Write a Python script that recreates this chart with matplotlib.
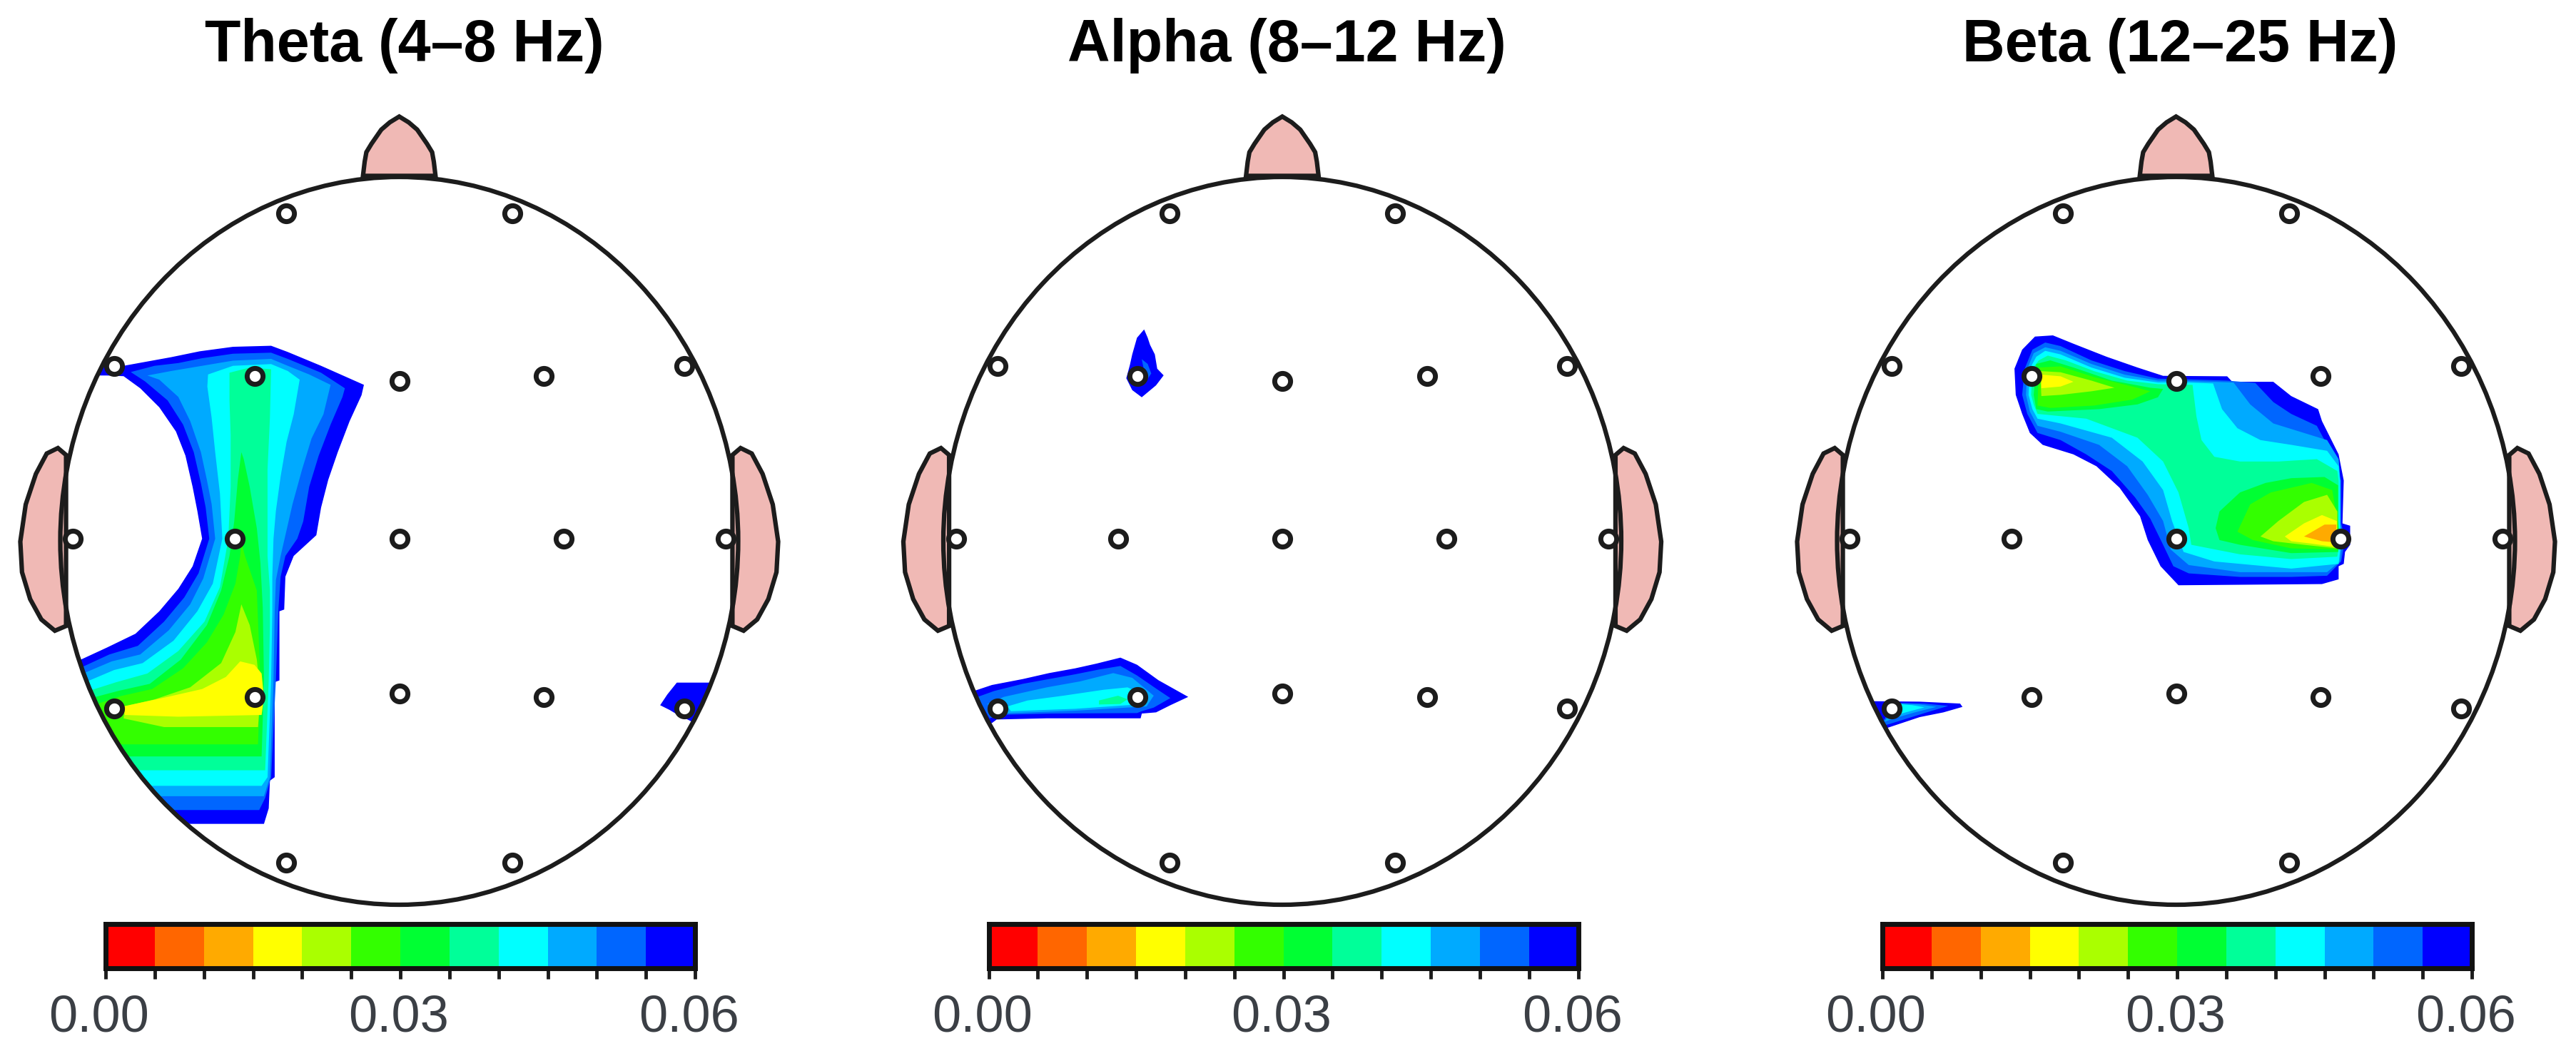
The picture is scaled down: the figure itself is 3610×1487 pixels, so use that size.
import matplotlib
matplotlib.use("Agg")
import matplotlib.pyplot as plt
from matplotlib.colors import BoundaryNorm, ListedColormap
from matplotlib.patches import Ellipse
import numpy as np

plt.rcParams["font.family"] = ["Liberation Sans", "DejaVu Sans"]

band_titles = ["Theta (4–8 Hz)", "Alpha (8–12 Hz)", "Beta (12–25 Hz)"]
cb_levels = [0.0, 0.005, 0.01, 0.015, 0.02, 0.025, 0.03, 0.035, 0.04, 0.045, 0.05, 0.055, 0.06]
cb_colors = ["#ff0000", "#ff6600", "#ffaa00", "#ffff00", "#aaff00", "#33ff00",
             "#00ff33", "#00ff99", "#00ffff", "#00aaff", "#0066ff", "#0000ff"]
cb_labels = ["0.00", "0.03", "0.06"]
cb_label_values = [0.0, 0.03, 0.06]

# electrode sites, head radius = 100
chan_x = [-33.3, 33.3, -84, -42.7, 0, 42.7, 84, -96.3, -48.5, 0, 48.5, 96.3, -84, -42.7, 0, 42.7, 84, -33.3, 33.3]
chan_y = [90, 90, 48, 45.3, 44, 45.3, 48, 0.5, 0.5, 0.5, 0.5, 0.5, -46, -43, -42, -43, -46, -88.4, -88.4]

nose_x = [-10.7, -10.2, -9.7, -8.2, -5.3, -2.8, 0, 2.8, 5.3, 8.2, 9.7, 10.2, 10.7]
nose_y = [100.3, 104.2, 106.8, 109.1, 113, 115, 116.6, 115, 113, 109.1, 106.8, 104.2, 100.3]
ear_x = [-98.3, -100.7, -104, -107.2, -110.2, -111.8, -111.3, -108.9, -105.6, -101.6, -98.3]
ear_y = [23.6, 25.5, 24, 18.4, 10, -0.2, -8.6, -16, -21.6, -24.7, -23.4]

theta_main_levels = [0.06, 0.055, 0.05, 0.045, 0.04, 0.035, 0.03, 0.025, 0.02]
theta_main_points = [
    [(150, 1000), (190, 1000), (300, 965), (420, 925), (520, 860), (600, 795), (660, 730), (700, 650), (680, 570),
     (660, 500), (630, 410), (590, 340), (520, 270), (440, 215), (370, 180), (300, 178), (240, 178), (240, 160),
     (300, 140), (370, 150), (450, 140), (570, 125), (690, 108), (830, 95), (990, 92), (1060, 110), (1200, 150),
     (1380, 205), (1370, 235), (1320, 310), (1270, 400), (1230, 480), (1200, 560), (1180, 640), (1085, 700),
     (1050, 760), (1045, 855), (1025, 860), (1025, 1060), (1005, 1065), (1005, 1340), (985, 1350), (980, 1430),
     (960, 1475), (800, 1475), (665, 1475), (560, 1475)],
    [(150, 1025), (200, 1020), (310, 985), (430, 960), (540, 890), (625, 820), (685, 750), (730, 650), (715, 560),
     (695, 490), (665, 400), (620, 320), (555, 250), (460, 195), (400, 168), (500, 150), (600, 142), (700, 128),
     (830, 115), (990, 112), (1060, 130), (1200, 170), (1300, 215), (1290, 240), (1240, 320), (1190, 410),
     (1150, 500), (1125, 600), (1100, 650), (1050, 700), (1030, 760), (1020, 860), (1010, 1060), (990, 1340),
     (965, 1400), (940, 1435), (800, 1435), (650, 1435), (500, 1435)],
    [(150, 1045), (200, 1040), (320, 1005), (440, 985), (560, 915), (650, 840), (705, 765), (755, 650), (740, 550),
     (720, 480), (695, 400), (650, 310), (600, 240), (520, 190), (470, 178), (570, 165), (700, 150), (830, 135),
     (990, 130), (1060, 150), (1150, 175), (1240, 205), (1210, 290), (1160, 360), (1120, 450), (1080, 550),
     (1050, 640), (1030, 700), (1010, 770), (1005, 860), (1000, 1060), (985, 1340), (960, 1395), (800, 1395),
     (600, 1395), (450, 1395)],
    [(160, 1070), (210, 1065), (330, 1030), (450, 1010), (580, 945), (680, 860), (745, 780), (785, 650), (775, 520),
     (755, 400), (740, 300), (722, 210), (725, 175), (830, 150), (990, 145), (1060, 165), (1110, 190), (1085, 290),
     (1055, 370), (1030, 470), (1010, 570), (1000, 650), (995, 760), (995, 860), (990, 1060), (975, 1340),
     (950, 1365), (800, 1365), (600, 1365), (400, 1365)],
    [(170, 1095), (225, 1090), (340, 1065), (470, 1040), (600, 975), (710, 890), (775, 790), (810, 650), (820, 500),
     (820, 350), (815, 250), (815, 170), (900, 155), (990, 160), (985, 300), (975, 450), (975, 600), (975, 700),
     (985, 800), (985, 900), (980, 1060), (965, 1320), (800, 1320), (600, 1320), (350, 1320)],
    [(180, 1120), (240, 1110), (350, 1090), (480, 1070), (610, 1000), (720, 900), (780, 800), (815, 700), (835, 600),
     (850, 480), (865, 400), (875, 420), (900, 500), (930, 620), (945, 720), (955, 850), (960, 1060), (950, 1280),
     (800, 1280), (600, 1280), (300, 1280)],
    [(190, 1145), (250, 1130), (360, 1105), (490, 1085), (620, 1025), (720, 950), (790, 870), (840, 780), (860, 700),
     (865, 660), (880, 700), (930, 800), (945, 1060), (935, 1245), (800, 1245), (600, 1245), (280, 1245)],
    [(865, 840), (840, 920), (780, 1010), (650, 1080), (500, 1115), (375, 1135), (370, 1170), (540, 1195), (800, 1195),
     (935, 1195), (945, 1100), (930, 1000), (900, 900)],
    [(370, 1135), (540, 1110), (700, 1085), (800, 1050), (860, 1005), (920, 1015), (950, 1040), (960, 1110), (950, 1160),
     (600, 1165), (375, 1160)],
]
theta_t6_levels = [0.06]
theta_t6_points = [
    [(135, 265), (165, 220), (205, 170), (360, 170), (400, 170), (380, 300), (290, 350), (270, 335), (200, 300), (175, 285)],
]
alpha_f3_levels = [0.06, 0.055]
alpha_f3_points = [
    [(190, 65), (205, 100), (215, 130), (235, 170), (245, 230), (272, 258), (240, 300), (180, 350), (140, 320),
     (115, 270), (130, 215), (140, 170), (160, 100)],
    [(180, 190), (205, 210), (220, 250), (200, 280), (190, 240)],
]
alpha_low_levels = [0.06, 0.055, 0.05, 0.045, 0.04]
alpha_low_points = [
    [(40, 215), (60, 210), (150, 180), (280, 155), (390, 130), (500, 110), (590, 90), (690, 65), (760, 95), (850, 160),
     (975, 230), (900, 265), (840, 295), (780, 300), (775, 320), (380, 320), (170, 325), (150, 340), (100, 340)],
    [(90, 230), (160, 205), (280, 175), (390, 155), (500, 135), (600, 115), (690, 100), (760, 140), (840, 195), (900, 235),
     (830, 275), (780, 290), (760, 298), (400, 300), (190, 305), (140, 320)],
    [(130, 260), (200, 230), (380, 190), (520, 165), (660, 130), (740, 150), (830, 225), (800, 270), (500, 288), (190, 300)],
    [(215, 270), (300, 245), (450, 225), (620, 200), (720, 190), (800, 225), (790, 260), (500, 280), (230, 290)],
    [(600, 245), (680, 225), (720, 240), (690, 260), (600, 262)],
]
beta_main_levels = [0.06, 0.055, 0.05, 0.045, 0.04, 0.035, 0.03, 0.025, 0.02,
                    0.035, 0.03, 0.025, 0.02, 0.015]
beta_main_points = [
    [(120, 230), (150, 150), (200, 95), (270, 90), (350, 125), (480, 180), (600, 225), (700, 260), (950, 262), (970, 285),
     (1130, 285), (1200, 345), (1305, 400), (1320, 450), (1385, 590), (1405, 700), (1400, 880), (1430, 890), (1430, 970),
     (1410, 1000), (1405, 1050), (1385, 1060), (1385, 1115), (1320, 1135), (760, 1140), (690, 1060), (640, 950), (610, 850),
     (530, 730), (440, 640), (350, 590), (230, 550), (180, 500), (150, 420), (125, 340)],
    [(160, 230), (190, 150), (240, 120), (300, 135), (420, 195), (550, 240), (680, 272), (800, 275), (950, 280), (1060, 290),
     (1130, 370), (1200, 420), (1300, 470), (1360, 590), (1395, 700), (1395, 880), (1410, 950), (1395, 1040), (1340, 1100),
     (1200, 1105), (1000, 1105), (800, 1090), (740, 1060), (700, 970), (650, 860), (590, 770), (500, 660), (400, 590),
     (300, 530), (210, 500), (170, 420), (150, 340)],
    [(170, 230), (195, 165), (240, 140), (300, 155), (420, 210), (550, 255), (680, 280), (800, 282), (975, 288), (1040, 380),
     (1130, 460), (1220, 490), (1340, 530), (1385, 610), (1392, 700), (1392, 880), (1400, 950), (1390, 1040), (1340, 1085),
     (1200, 1085), (1000, 1085), (800, 1055), (730, 990), (700, 870), (640, 760), (560, 640), (450, 550), (300, 495),
     (210, 470), (180, 410), (165, 340)],
    [(180, 230), (205, 180), (240, 155), (300, 170), (420, 225), (550, 268), (680, 288), (800, 288), (895, 292), (930, 400),
     (990, 480), (1080, 530), (1200, 550), (1340, 575), (1385, 640), (1390, 700), (1390, 880), (1395, 950), (1385, 1050),
     (1200, 1070), (900, 1040), (780, 1000), (735, 870), (700, 740), (620, 620), (500, 520), (300, 460), (210, 440),
     (190, 400), (175, 340)],
    [(190, 230), (215, 195), (250, 175), (320, 195), (430, 240), (560, 280), (680, 295), (815, 298), (830, 430), (850, 530),
     (900, 600), (1000, 620), (1150, 620), (1300, 610), (1380, 660), (1385, 700), (1385, 880), (1390, 950), (1380, 1020),
     (1200, 1030), (1000, 1010), (810, 970), (800, 900), (760, 750), (700, 620), (600, 520), (400, 440), (210, 420),
     (195, 380), (185, 340)],
    [(205, 210), (260, 195), (350, 225), (500, 280), (650, 310), (700, 315), (680, 350), (600, 380), (450, 400), (250, 410),
     (205, 400), (195, 340)],
    [(215, 225), (300, 220), (430, 265), (600, 310), (650, 325), (580, 360), (430, 385), (260, 395), (210, 385)],
    [(220, 240), (300, 245), (420, 280), (510, 310), (420, 325), (300, 340), (225, 345)],
    [(225, 255), (300, 262), (350, 285), (300, 305), (225, 312)],
    [(905, 900), (920, 830), (1000, 750), (1100, 710), (1200, 690), (1330, 685), (1383, 720), (1383, 880), (1388, 950),
     (1383, 1000), (1200, 1005), (1000, 970), (920, 950)],
    [(990, 915), (1040, 800), (1120, 750), (1280, 710), (1360, 740), (1383, 880), (1383, 990), (1200, 985), (1050, 950)],
    [(1080, 935), (1150, 870), (1250, 790), (1340, 760), (1380, 830), (1380, 985), (1250, 970), (1130, 955)],
    [(1175, 935), (1250, 880), (1320, 845), (1378, 870), (1378, 980), (1280, 965), (1200, 955)],
    [(1250, 935), (1330, 885), (1376, 885), (1376, 960), (1320, 955)],
]
beta_t5_levels = [0.06, 0.055, 0.05, 0.045]
beta_t5_points = [
    [(70, 130), (100, 98), (300, 100), (470, 108), (480, 122), (400, 145), (300, 165), (210, 195), (150, 215), (90, 230)],
    [(200, 105), (320, 108), (420, 118), (330, 145), (250, 170), (170, 195), (130, 205)],
    [(210, 108), (300, 112), (370, 122), (280, 145), (210, 165), (150, 185)],
    [(215, 110), (270, 115), (320, 124), (260, 140), (205, 155), (170, 170)],
]

# digitising grid to scalp units: x = a*col + b, y = c*row + d
theta_main_cal = (0.0702, -107.3, -0.095, 62.35)
theta_t6_cal = (0.0702, 67.5, -0.0654, -27.84)
alpha_f3_cal = (0.0702, -54.1, -0.0654, 62.35)
alpha_low_cal = (0.0702, -96.2, -0.0654, -27.84)
beta_main_cal = (0.0756, -56.74, -0.0654, 62.35)
beta_t5_cal = (0.0702, -96.7, -0.0654, -37.65)

band_patches = [
    [(theta_main_levels, theta_main_points, theta_main_cal), (theta_t6_levels, theta_t6_points, theta_t6_cal)],
    [(alpha_f3_levels, alpha_f3_points, alpha_f3_cal), (alpha_low_levels, alpha_low_points, alpha_low_cal)],
    [(beta_main_levels, beta_main_points, beta_main_cal), (beta_t5_levels, beta_t5_points, beta_t5_cal)],
]

W, H = 3610, 1487
LINE = "#1c1c1c"
head_cx = [559.5, 1797, 3049.5]
title_cx = [567, 1803, 3055]
head_cy = 758
sx, sy = 4.75, 5.10

cb_cmap = ListedColormap(cb_colors)
cb_norm = BoundaryNorm(cb_levels, cb_cmap.N)


def draw_field(ax, levels, points, cal):
    # widest level first so the lower p values paint on top
    order = sorted(range(len(levels)), key=lambda k: -levels[k])
    clip = Ellipse((0, 0), 200, 200, transform=ax.transData)
    for k in order:
        trace = np.array(points[k], dtype=float)
        xs = cal[0] * trace[:, 0] + cal[1]
        ys = cal[2] * trace[:, 1] + cal[3]
        poly = ax.fill(xs, ys, color=cb_cmap(cb_norm(levels[k] - 1e-5)), lw=0, zorder=2)[0]
        poly.set_clip_path(clip)


def draw_head(ax, patches):
    ear_kw = dict(fc="#f0b9b5", ec=LINE, lw=4.5, zorder=1)
    ax.fill(nose_x, nose_y, **ear_kw)
    ax.fill(ear_x, ear_y, **ear_kw)
    ax.fill(-np.array(ear_x), ear_y, **ear_kw)
    for levels, points, cal in patches:
        draw_field(ax, levels, points, cal)
    ax.add_patch(Ellipse((0, 0), 200, 200, fc="none", ec=LINE, lw=4.5, zorder=3))
    ax.plot(chan_x, chan_y, "o", ms=16, mfc="white", mec=LINE, mew=5, zorder=4, clip_on=False)


def draw_colorbar(ax):
    ax.pcolormesh(cb_levels, [0, 1], [np.arange(12)], cmap=cb_cmap)
    ax.set_yticks([])
    ax.set_xticks(cb_levels)
    ax.set_xticklabels(["" for _ in cb_levels])
    ax.tick_params(axis="x", length=11, width=3.5, color=LINE)
    for side in ax.spines.values():
        side.set_linewidth(5)
        side.set_color("#111111")
    label_shift = [-6.5, -2, -6]
    for value, label, shift in zip(cb_label_values, cb_labels, label_shift):
        ax.annotate(label, (value, 0), xycoords=("data", "axes fraction"), xytext=(shift, -26),
                    textcoords="offset points", ha="center", va="top", fontsize=52, color="#3b3f45")


fig = plt.figure(figsize=(W / 100, H / 100), dpi=100)

for i in range(3):
    cx = head_cx[i]
    x_span, y_top, y_bottom = 117, 122, 108
    ax = fig.add_axes([(cx - x_span * sx) / W, (H - head_cy - y_bottom * sy) / H,
                       2 * x_span * sx / W, (y_top + y_bottom) * sy / H])
    ax.set_xlim(-x_span, x_span)
    ax.set_ylim(-y_bottom, y_top)
    ax.axis("off")
    draw_head(ax, band_patches[i])

    cb_ax = fig.add_axes([(cx + 1.5 - 413) / W, (H - 1357) / H, 826 / W, 62 / H])
    draw_colorbar(cb_ax)

    fig.text(title_cx[i] / W, (H - 64) / H, band_titles[i], ha="center", va="center",
             fontsize=59.5, fontweight="bold", color="black")

fig.savefig("out.png", dpi=100)
